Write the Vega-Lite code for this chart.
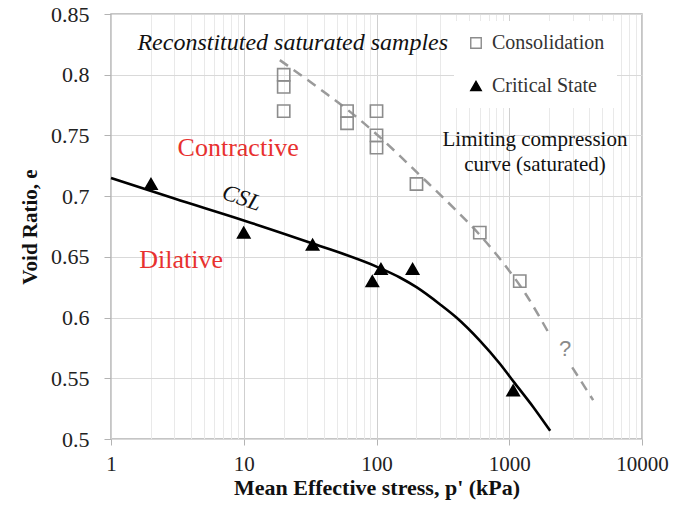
{
  "$schema": "https://vega.github.io/schema/vega-lite/v6.json",
  "width": 531,
  "height": 425,
  "autosize": {"type": "none"},
  "padding": {"left": 111, "top": 14, "right": 48, "bottom": 78},
  "background": "white",
  "config": {
    "view": {"stroke": "#b3b3b3", "strokeWidth": 1.5},
    "font": "Liberation Serif",
    "axis": {"labelFont": "Liberation Serif", "titleFont": "Liberation Serif", "labelColor": "#222", "titleColor": "#111", "domain": false}
  },
  "datasets": {
    "lcc": [
      {"seg": "a", "p": 18.7, "e": 0.812},
      {"seg": "a", "p": 40, "e": 0.786},
      {"seg": "a", "p": 71, "e": 0.765},
      {"seg": "a", "p": 100, "e": 0.751},
      {"seg": "a", "p": 218, "e": 0.716},
      {"seg": "a", "p": 400, "e": 0.688},
      {"seg": "a", "p": 589, "e": 0.669},
      {"seg": "a", "p": 900, "e": 0.645},
      {"seg": "a", "p": 1318, "e": 0.620},
      {"seg": "a", "p": 1965, "e": 0.588},
      {"seg": "b", "p": 2981, "e": 0.559},
      {"seg": "b", "p": 4285, "e": 0.532}
    ],
    "csl": [
      {"p": 1, "e": 0.715},
      {"p": 3, "e": 0.698},
      {"p": 10, "e": 0.680},
      {"p": 33, "e": 0.661},
      {"p": 100, "e": 0.642},
      {"p": 150, "e": 0.633},
      {"p": 200, "e": 0.625},
      {"p": 300, "e": 0.611},
      {"p": 400, "e": 0.600},
      {"p": 600, "e": 0.581},
      {"p": 850, "e": 0.562},
      {"p": 1100, "e": 0.546},
      {"p": 1500, "e": 0.527},
      {"p": 2035, "e": 0.5067}
    ],
    "pts": [
      {"series": "Consolidation", "p": 20, "e": 0.80},
      {"series": "Consolidation", "p": 20, "e": 0.79},
      {"series": "Consolidation", "p": 20, "e": 0.77},
      {"series": "Consolidation", "p": 60, "e": 0.77},
      {"series": "Consolidation", "p": 60, "e": 0.76},
      {"series": "Consolidation", "p": 100, "e": 0.77},
      {"series": "Consolidation", "p": 100, "e": 0.75},
      {"series": "Consolidation", "p": 100, "e": 0.74},
      {"series": "Consolidation", "p": 200, "e": 0.71},
      {"series": "Consolidation", "p": 600, "e": 0.67},
      {"series": "Consolidation", "p": 1200, "e": 0.63},
      {"series": "Critical State", "p": 2, "e": 0.71},
      {"series": "Critical State", "p": 10, "e": 0.67},
      {"series": "Critical State", "p": 33, "e": 0.66},
      {"series": "Critical State", "p": 93, "e": 0.63},
      {"series": "Critical State", "p": 108, "e": 0.64},
      {"series": "Critical State", "p": 187, "e": 0.64},
      {"series": "Critical State", "p": 1070, "e": 0.54}
    ],
    "regions": [
      {"p": 9.09, "e": 0.733, "text": "Contractive"},
      {"p": 3.37, "e": 0.641, "text": "Dilative"}
    ],
    "csllabel": [{"p": 9.68, "e": 0.6984, "text": "CSL"}],
    "title": [{"p": 23.4, "e": 0.8203, "text": "Reconstituted saturated samples"}],
    "limit": [
      {"p": 1563, "e": 0.7413, "text": "Limiting compression"},
      {"p": 1563, "e": 0.7207, "text": "curve (saturated)"}
    ],
    "q": [{"p": 2633, "e": 0.574, "text": "?"}]
  },
  "layer": [
    {
      "data": {"name": "lcc"},
      "mark": {"type": "line", "color": "#9a9a9a", "strokeWidth": 2.5, "strokeDash": [10, 7], "interpolate": "monotone"},
      "encoding": {
        "x": {
          "field": "p", "type": "quantitative",
          "scale": {"type": "log", "domain": [1, 10000], "nice": false},
          "axis": {
            "title": "Mean Effective stress, p' (kPa)",
            "values": [1,2,3,4,5,6,7,8,9,10,20,30,40,50,60,70,80,90,100,200,300,400,500,600,700,800,900,1000,2000,3000,4000,5000,6000,7000,8000,9000,10000],
            "labelExpr": "indexof([1,10,100,1000,10000], datum.value) >= 0 ? format(datum.value, 'd') : ''",
            "grid": true,
            "gridColor": {"condition": {"test": "indexof([1,10,100,1000,10000], datum.value) >= 0", "value": "#cfcfcf"}, "value": "#e9e9e9"},
            "tickOpacity": {"condition": {"test": "indexof([1,10,100,1000,10000], datum.value) >= 0", "value": 1}, "value": 0},
            "tickSize": 6, "tickColor": "#b3b3b3",
            "labelFontSize": 21, "labelPadding": 8, "labelFlush": false, "labelOverlap": false,
            "titleFontSize": 22, "titleFontWeight": "bold", "titlePadding": 3
          }
        },
        "y": {
          "field": "e", "type": "quantitative",
          "scale": {"domain": [0.5, 0.85], "nice": false, "zero": false},
          "axis": {
            "title": "Void Ratio, e",
            "values": [0.5, 0.55, 0.6, 0.65, 0.7, 0.75, 0.8, 0.85],
            "format": ".2~f",
            "grid": true, "gridColor": "#d9d9d9",
            "tickSize": 7, "tickColor": "#b3b3b3",
            "labelFontSize": 22, "labelPadding": 15,
            "titleFontSize": 21, "titleFontWeight": "bold", "titlePadding": 10
          }
        },
        "detail": {"field": "seg", "type": "nominal"}
      }
    },
    {
      "data": {"name": "csl"},
      "mark": {"type": "line", "color": "#000", "strokeWidth": 2.6, "interpolate": "monotone"},
      "encoding": {
        "x": {"field": "p", "type": "quantitative"},
        "y": {"field": "e", "type": "quantitative"}
      }
    },
    {
      "data": {"name": "pts"},
      "mark": {"type": "point", "filled": true, "size": 150, "strokeWidth": 1.6, "opacity": 1},
      "encoding": {
        "x": {"field": "p", "type": "quantitative"},
        "y": {"field": "e", "type": "quantitative"},
        "shape": {
          "field": "series", "type": "nominal",
          "scale": {"domain": ["Consolidation", "Critical State"], "range": ["square", "triangle-up"]},
          "legend": {"title": null, "orient": "none", "legendX": 343, "legendY": 7, "padding": 12, "fillColor": "white", "labelFont": "Liberation Serif", "labelFontSize": 20, "labelColor": "#333", "rowPadding": 23, "labelOffset": 6, "symbolSize": 110, "symbolStrokeWidth": 1.4, "symbolOpacity": 1}
        },
        "fill": {
          "field": "series", "type": "nominal",
          "scale": {"domain": ["Consolidation", "Critical State"], "range": ["transparent", "#000"]},
          "legend": {"title": null, "orient": "none", "legendX": 343, "legendY": 7, "padding": 12, "fillColor": "white", "labelFont": "Liberation Serif", "labelFontSize": 20, "labelColor": "#333", "rowPadding": 23, "labelOffset": 6, "symbolSize": 110, "symbolStrokeWidth": 1.4, "symbolOpacity": 1}
        },
        "stroke": {
          "field": "series", "type": "nominal",
          "scale": {"domain": ["Consolidation", "Critical State"], "range": ["#8c8c8c", "#000"]},
          "legend": {"title": null, "orient": "none", "legendX": 343, "legendY": 7, "padding": 12, "fillColor": "white", "labelFont": "Liberation Serif", "labelFontSize": 20, "labelColor": "#333", "rowPadding": 23, "labelOffset": 6, "symbolSize": 110, "symbolStrokeWidth": 1.4, "symbolOpacity": 1}
        }
      }
    },
    {
      "data": {"name": "regions"},
      "mark": {"type": "text", "font": "Liberation Serif", "fontSize": 26, "color": "#e8312f", "align": "center", "baseline": "alphabetic"},
      "encoding": {
        "x": {"field": "p", "type": "quantitative"},
        "y": {"field": "e", "type": "quantitative"},
        "text": {"field": "text"}
      }
    },
    {
      "data": {"name": "csllabel"},
      "mark": {"type": "text", "font": "Liberation Serif", "fontStyle": "italic", "fontSize": 23, "color": "#111", "align": "center", "baseline": "middle", "angle": 19},
      "encoding": {
        "x": {"field": "p", "type": "quantitative"},
        "y": {"field": "e", "type": "quantitative"},
        "text": {"field": "text"}
      }
    },
    {
      "data": {"name": "title"},
      "mark": {"type": "text", "font": "Liberation Serif", "fontStyle": "italic", "fontSize": 24, "color": "#111", "align": "center", "baseline": "alphabetic"},
      "encoding": {
        "x": {"field": "p", "type": "quantitative"},
        "y": {"field": "e", "type": "quantitative"},
        "text": {"field": "text"}
      }
    },
    {
      "data": {"name": "limit"},
      "mark": {"type": "text", "font": "Liberation Serif", "fontSize": 21, "color": "#111", "align": "center", "baseline": "alphabetic"},
      "encoding": {
        "x": {"field": "p", "type": "quantitative"},
        "y": {"field": "e", "type": "quantitative"},
        "text": {"field": "text"}
      }
    },
    {
      "data": {"name": "q"},
      "mark": {"type": "text", "font": "Liberation Sans", "fontSize": 22, "color": "#8a8a8a", "align": "center", "baseline": "middle"},
      "encoding": {
        "x": {"field": "p", "type": "quantitative"},
        "y": {"field": "e", "type": "quantitative"},
        "text": {"field": "text"}
      }
    }
  ]
}
